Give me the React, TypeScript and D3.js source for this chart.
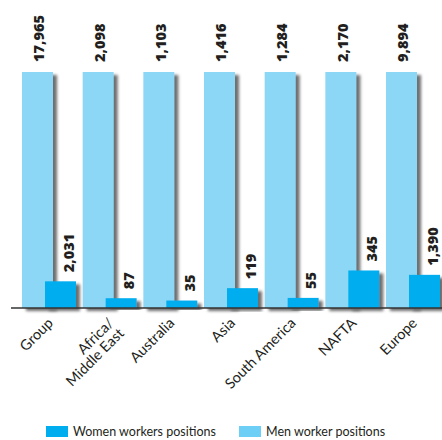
import React from "react";
import * as d3 from "d3";

const categories: string[][] = [
  ["Group"],
  ["Africa/", "Middle East"],
  ["Australia"],
  ["Asia"],
  ["South America"],
  ["NAFTA"],
  ["Europe"],
];
const menValues = [17965, 2098, 1103, 1416, 1284, 2170, 9894];
const womenValues = [2031, 87, 35, 119, 55, 345, 1390];
const seriesNames = ["Women workers positions", "Men worker positions"];
const seriesColors = ["#00adef", "#8dd7f6"];
const legendColors = ["#00adef", "#6dcff6"];

const W = 442;
const H = 440;
const baseY = 308;
const topY = 72;
const barW = 31;

export default function App() {
  const keys = categories.map((c) => c.join(" "));
  const x = d3
    .scaleBand<string>()
    .domain(keys)
    .range([22, 440])
    .paddingInner(0.11)
    .paddingOuter(0);
  // each column shows men as 100% and women relative to men
  const y = d3.scaleLinear().domain([0, 1]).range([baseY, topY]);
  const fmt = d3.format(",");

  return (
    <svg
      width={W}
      height={H}
      style={{ position: "absolute", left: 0, top: 0, background: "#fff" }}
    >
      <defs>
        <filter id="sh" x="-20%" y="-10%" width="160%" height="130%">
          <feDropShadow dx="4" dy="3" stdDeviation="1.7" floodColor="#6e6e6e" floodOpacity="1" />
        </filter>
      </defs>
      {keys.map((k, i) => {
        const mx = x(k)!;
        const wx = mx + x.bandwidth() - barW;
        const mTop = y(1);
        const wTop = y(womenValues[i] / menValues[i]);
        return (
          <g key={k}>
            <rect x={mx} y={mTop} width={barW} height={baseY - mTop} fill={seriesColors[1]} filter="url(#sh)" />
            <rect x={wx} y={wTop} width={barW} height={baseY - wTop} fill={seriesColors[0]} filter="url(#sh)" />
          </g>
        );
      })}
      <line x1={11} x2={442} y1={baseY} y2={baseY} stroke="#333" strokeWidth={1.6} />
      {keys.map((k, i) => {
        const mx = x(k)!;
        const wx = mx + x.bandwidth() - barW;
        const mTop = y(1);
        const wTop = y(womenValues[i] / menValues[i]);
        const mcx = mx + barW / 2 + 1.5;
        const wcx = wx + barW / 2 + 8;
        const style = {
          fontFamily: "'Open Sans', sans-serif",
          fontWeight: 800,
          fontSize: 14.5,
          fill: "#231f20",
        } as React.CSSProperties;
        return (
          <g key={"l" + k}>
            <text transform={`translate(${mcx},${mTop - 10}) rotate(-90)`} dy="0.36em" style={style}>
              {fmt(menValues[i])}
            </text>
            <text transform={`translate(${wcx},${wTop - 9}) rotate(-90)`} dy="0.36em" style={style}>
              {fmt(womenValues[i])}
            </text>
          </g>
        );
      })}
      {categories.map((lines, i) => {
        const k = keys[i];
        const cx = x(k)! + x.bandwidth() / 2 + 5;
        return (
          <text
            key={"c" + k}
            transform={`translate(${cx},324) rotate(-45)`}
            textAnchor="end"
            style={{ fontFamily: "Lato, sans-serif", fontSize: 14.5, fill: "#231f20" }}
          >
            {lines.map((ln, j) => (
              <tspan key={j} x={0} dy={j === 0 ? 0 : "1.0em"}>
                {ln}
              </tspan>
            ))}
          </text>
        );
      })}
      {seriesNames.map((s, i) => {
        const lx = i === 0 ? 46 : 239;
        return (
          <g key={s} transform={`translate(${lx},426)`}>
            <rect x={0} y={0} width={22} height={11} fill={legendColors[i]} />
            <text x={27} y={10} style={{ fontFamily: "Lato, sans-serif", fontSize: 12.5, fill: "#231f20" }}>
              {s}
            </text>
          </g>
        );
      })}
    </svg>
  );
}
